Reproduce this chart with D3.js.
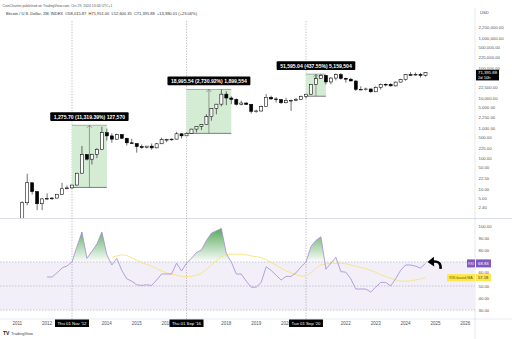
<!DOCTYPE html>
<html><head><meta charset="utf-8">
<script src="https://cdn.jsdelivr.net/npm/d3@7"></script>
<style>
html,body{margin:0;padding:0;background:#fff;}
svg{display:block;font-family:"Liberation Sans",Arial,sans-serif;}
</style></head><body>
<svg id="c" width="512" height="339"></svg>
<script>
// ---------- DATA ----------
const candleMonths = [
"2011-03","2011-05","2011-07","2011-09","2011-11",
"2012-01","2012-03","2012-05","2012-07","2012-09","2012-11",
"2013-01","2013-03","2013-05","2013-07","2013-09","2013-11",
"2014-01","2014-03","2014-05","2014-07","2014-09","2014-11",
"2015-01","2015-03","2015-05","2015-07","2015-09","2015-11",
"2016-01","2016-03","2016-05","2016-07","2016-09","2016-11",
"2017-01","2017-03","2017-05","2017-07","2017-09","2017-11",
"2018-01","2018-03","2018-05","2018-07","2018-09","2018-11",
"2019-01","2019-03","2019-05","2019-07","2019-09","2019-11",
"2020-01","2020-03","2020-05","2020-07","2020-09","2020-11",
"2021-01","2021-03","2021-05","2021-07","2021-09","2021-11",
"2022-01","2022-03","2022-05","2022-07","2022-09","2022-11",
"2023-01","2023-03","2023-05","2023-07","2023-09","2023-11",
"2024-01","2024-03","2024-05","2024-07","2024-09"];
const openP = [
0.86,3.5,16.1,8.2,3.25,
4.7,4.9,5.0,6.7,10.2,10.9,
13.5,33.4,139,97,141,204,
732,573,447,640,478,338,
320,254,236,263,230,314,
430,437,448,673,575,700,
963,1190,1348,2480,4703,6450,
13800,10300,9240,6390,7030,6370,
3740,3820,5320,10800,9590,9150,
7190,8540,8620,9140,11650,13800,
29000,45200,57700,35040,47100,61300,
46300,43200,37700,19900,20050,20500,
16550,23150,29250,29230,25940,34660,
42270,61200,60600,62700,58015.87];
const highP = [
3.9,31.9,16.5,8.5,4.9,
7.2,5.4,6.9,16.0,13.0,13.8,
34,266,140,148,225,1150,
1000,700,680,650,500,460,
320,300,265,320,335,500,
460,470,780,700,740,980,
1210,1350,2980,4770,6470,19700,
17200,11700,10000,8500,7400,6600,
4200,5750,13880,12300,10950,9500,
10500,9200,10400,12470,14100,29300,
58350,64900,59500,50500,67000,69000,
48000,48200,39900,25200,22800,21500,
25250,31000,31400,31800,35900,44700,
64000,73800,72000,70000,71951];
const lowP = [
0.7,2.9,6.6,2.0,2.0,
4.3,4.3,4.9,6.5,9.7,10.1,
13.2,33,88,65,105,200,
400,340,430,460,275,310,
160,215,220,200,225,310,
355,400,440,470,570,690,
750,890,1340,1830,2970,5500,
6000,6450,5800,5900,6100,3150,
3350,3700,5300,9100,7300,6500,
6850,3850,8100,8900,9820,13200,
28000,44900,28800,29300,39600,42000,
33000,37400,17600,18800,18150,15500,
16500,19550,24800,25200,24900,34100,
38500,56500,56500,49000,52600.35];
const closeP = [
3.5,16.1,8.2,3.25,4.7,
4.9,5.0,6.7,10.2,10.9,13.5,
33.4,139,97,141,204,732,
573,447,640,478,338,320,
254,236,263,230,314,430,
437,448,673,575,700,963,
1190,1348,2480,4703,6450,13800,
10300,9240,6390,7030,6370,3740,
3820,5320,10800,9590,9150,7190,
8540,8620,9140,11650,13800,29000,
45200,57700,35040,47100,61300,46300,
43200,37700,19900,20050,20500,16550,
23150,29250,29230,25940,34660,42270,
61200,60600,62700,58015.87,71395.88];

// RSI values from Jan 2012
const rsiStart = "2012-01";
const rsiValues = [
57.5,57.5,61,65,66.7,70,
83,95,73,79,85,95,
76,67.5,73,63,56,54,
51,50.5,51,50.5,55,60,
60,60,69,62.5,69,73,
78,80,88,94,96,98,
77,70,60,60,54,49,
49,53,66,63,59,55,
58,58,61,66,70,83,
88,91,64,69,74,62,
61.5,56,47.5,47.5,47.5,45,
49,53,53,50,56,63,
67.5,67.5,66.5,65,68.83];
// RSI-based MA from Mar 2014
const maStart = "2014-03";
const maValues = [
74,75,76,75.5,73.5,
71.5,69.5,68,66.5,64.5,62.5,
61,60,59,58,57.8,58,
59,60.5,64,67.5,71,74.5,
76.2,76.5,76.5,76.5,76,75,
74.5,73.5,72,69.5,67.5,65,
62.5,61,59.5,58.2,58.5,61,
65,67.5,68.5,69,69,69,
68.5,67.5,66.5,65.5,64.5,63,
61.5,59.5,58,56.5,55,54,
54,54.2,55,56,57.18];

const measureStart = ["2012-11","2016-09","2020-09"];
const measureEnd   = ["2014-01","2018-03","2021-05"];
const measureLow   = [11.27, 695.6, 11791.8];
const measureHigh  = [1286.97, 19691.1, 63386.8];
const measureLabels = ["1,275.70 (11,319.39%) 127,570","18,995.54 (2,730.92%) 1,899,554","51,595.04 (437.55%) 5,159,504"];

const markerMonths = ["2012-11","2016-09","2020-09"];
const markerLabels = ["Thu 01 Nov '12","Thu 01 Sep '16","Tue 01 Sep '20"];

// visible tick labels (the ones hidden behind label boxes in the reference are omitted)
const yearTicks = [2011,2012,2014,2015,2016,2018,2019,2020,2022,2023,2024,2025,2026];
const priceTicks = [2250000,1000000,500000,225000,100000,22500,10000,5000,2250,1000,500,225,100,50,22.5,10,5,2.4];
const rsiTicks = [100,90,80,60,50,40,30];

const lastPrice = 71395.88, lastRsi = 68.83, lastMa = 57.18;
const headerLine1 = "CoinChartist published on TradingView.com, Oct 29, 2024 13:03 UTC+1";
const headerLine2 = "Bitcoin / U.S. Dollar, 2M, INDEX  O58,015.87  H71,951.00  L52,600.35  C71,395.88  +13,380.01 (+23.06%)";

// ---------- SCALES ----------
const toYear = s => +s.slice(0,4) + (+s.slice(5,7)-1)/12;
const W = 512, H = 339, axisX = 475;
const paneTop = 20, paneBot = 218, rsiTop = 219, rsiBot = 318;
const x = d3.scaleLinear().domain([toYear("2012-11"), toYear("2020-09")]).range([72, 306]);
const yP = d3.scaleLog().domain([10, 100000]).range([189, 68.2]);
const yR = d3.scaleLinear().domain([30, 100]).range([310, 226]);
const barPx = (x(2020) - x(2019)) / 6;

const svg = d3.select("#c");
svg.append("rect").attr("width",W).attr("height",H).attr("fill","#fff");
const defs = svg.append("defs");
defs.append("clipPath").attr("id","pclip").append("rect")
  .attr("x",0).attr("y",paneTop).attr("width",axisX).attr("height",paneBot-paneTop);
defs.append("clipPath").attr("id","obclip").append("rect")
  .attr("x",0).attr("y",rsiTop).attr("width",axisX).attr("height",yR(70)-rsiTop);
const grad = defs.append("linearGradient").attr("id","obgrad")
  .attr("gradientUnits","userSpaceOnUse").attr("x1",0).attr("x2",0).attr("y1",yR(100)).attr("y2",yR(70));
grad.append("stop").attr("offset",0).attr("stop-color","#43a047").attr("stop-opacity",0.95);
grad.append("stop").attr("offset",1).attr("stop-color","#43a047").attr("stop-opacity",0.02);

// header
svg.append("text").attr("x",2.5).attr("y",6.5).attr("font-size",3.6).attr("fill","#555")
  .attr("textLength",110).attr("lengthAdjust","spacingAndGlyphs").text(headerLine1);
svg.append("text").attr("x",6).attr("y",15).attr("font-size",4).attr("fill","#333").attr("xml:space","preserve")
  .attr("textLength",191).attr("lengthAdjust","spacingAndGlyphs").text(headerLine2);

// frame lines
svg.append("line").attr("x1",axisX).attr("x2",axisX).attr("y1",8).attr("y2",H).attr("stroke","#e0e3eb").attr("stroke-width",0.8);
svg.append("line").attr("x1",0).attr("x2",W).attr("y1",paneBot+0.5).attr("y2",paneBot+0.5).attr("stroke","#d1d4dc").attr("stroke-width",0.8);
svg.append("line").attr("x1",0).attr("x2",W).attr("y1",rsiBot+1).attr("y2",rsiBot+1).attr("stroke","#e0e3eb").attr("stroke-width",0.8);

// RSI band
svg.append("rect").attr("x",0).attr("y",yR(70)).attr("width",axisX).attr("height",yR(30)-yR(70)).attr("fill","#f2eff9");
[70,50,30].forEach(v=>{
  svg.append("line").attr("x1",0).attr("x2",axisX).attr("y1",yR(v)).attr("y2",yR(v))
    .attr("stroke","#a6a8b3").attr("stroke-width",0.6).attr("stroke-dasharray","1.5,1.5");
});

// vertical markers
markerMonths.forEach(m=>{
  svg.append("line").attr("x1",x(toYear(m))).attr("x2",x(toYear(m))).attr("y1",paneTop+1).attr("y2",rsiBot+1)
    .attr("stroke","#8f929c").attr("stroke-width",0.6).attr("stroke-dasharray","1.2,1.5");
});

// measure boxes
const pg = svg.append("g").attr("clip-path","url(#pclip)");
measureStart.forEach((s,i)=>{
  const x0 = x(toYear(s)), x1 = x(toYear(measureEnd[i]));
  const yt = yP(measureHigh[i]), yb = yP(measureLow[i]);
  pg.append("rect").attr("x",x0).attr("y",yt).attr("width",x1-x0).attr("height",yb-yt).attr("fill","#d3ecd3");
  pg.append("line").attr("x1",x0).attr("x2",x1).attr("y1",yt).attr("y2",yt).attr("stroke","#8d8f97").attr("stroke-width",0.7);
  pg.append("line").attr("x1",x0).attr("x2",x1).attr("y1",yb).attr("y2",yb).attr("stroke","#5d5f66").attr("stroke-width",0.8);
  const xm = (x0+x1)/2;
  pg.append("line").attr("x1",xm).attr("x2",xm).attr("y1",yb).attr("y2",yt).attr("stroke","#666").attr("stroke-width",0.6);
  pg.append("path").attr("d",`M${xm-2.5},${yt+2.5}L${xm},${yt}L${xm+2.5},${yt+2.5}`).attr("fill","none").attr("stroke","#666").attr("stroke-width",0.6);
});

// candles
const bw = barPx*0.62;
const candles = candleMonths.map((m,i)=>({t:toYear(m),o:openP[i],h:highP[i],l:lowP[i],c:closeP[i]}));
const cg = pg.append("g");
cg.selectAll("line.w").data(candles).join("line")
  .attr("x1",d=>x(d.t)).attr("x2",d=>x(d.t)).attr("y1",d=>yP(d.h)).attr("y2",d=>yP(d.l))
  .attr("stroke","#111").attr("stroke-width",0.6);
cg.selectAll("rect.b").data(candles).join("rect")
  .attr("x",d=>x(d.t)-bw/2).attr("width",bw)
  .attr("y",d=>Math.min(yP(d.o),yP(d.c))).attr("height",d=>Math.max(0.7,Math.abs(yP(d.o)-yP(d.c))))
  .attr("fill",d=>d.c>=d.o?"#fff":"#000").attr("stroke","#000").attr("stroke-width",0.55);

// measure labels
measureStart.forEach((s,i)=>{
  const x0 = x(toYear(s)), x1 = x(toYear(measureEnd[i]));
  const yt = yP(measureHigh[i]);
  const xm = (x0+x1)/2;
  const t = svg.append("text").attr("x",xm).attr("y",yt-6.2).attr("text-anchor","middle")
    .attr("font-size",5.1).attr("font-weight","bold").attr("fill","#fff").text(measureLabels[i]);
  const w = t.node().getComputedTextLength()+7;
  svg.insert("rect", () => t.node()).attr("x",xm-w/2).attr("y",yt-13).attr("width",w).attr("height",8.8).attr("rx",1).attr("fill","#000");
});

// price axis
svg.append("text").attr("x",480).attr("y",14).attr("font-size",4.2).attr("fill","#4a4e59").text("USD");
const fmt = d3.format(",.2f");
priceTicks.forEach(v=>{
  svg.append("text").attr("x",478.5).attr("y",yP(v)+1.5).attr("font-size",4.3).attr("fill","#50535e").text(fmt(v));
});
const lpY = yP(lastPrice);
svg.append("rect").attr("x",476).attr("y",lpY-2.8).attr("width",23).attr("height",10.6).attr("fill","#000");
svg.append("text").attr("x",478).attr("y",lpY+1.3).attr("font-size",4.3).attr("fill","#fff").text(fmt(lastPrice));
svg.append("text").attr("x",478).attr("y",lpY+6.3).attr("font-size",4.1).attr("fill","#fff").text("2d 10h");

// RSI
const rsiData = rsiValues.map((v,i)=>({t:toYear(rsiStart)+i/6, v}));
const maData = maValues.map((v,i)=>({t:toYear(maStart)+i/6, v}));
svg.append("path").datum(rsiData).attr("clip-path","url(#obclip)")
  .attr("d", d3.area().x(d=>x(d.t)).y0(yR(70)).y1(d=>yR(d.v)))
  .attr("fill","url(#obgrad)");
svg.append("path").datum(maData).attr("d", d3.line().x(d=>x(d.t)).y(d=>yR(d.v)))
  .attr("fill","none").attr("stroke","#f9e27a").attr("stroke-width",0.9);
svg.append("path").datum(rsiData).attr("d", d3.line().x(d=>x(d.t)).y(d=>yR(d.v)))
  .attr("fill","none").attr("stroke","#a28bd4").attr("stroke-width",0.8);

rsiTicks.forEach(v=>{
  svg.append("text").attr("x",478.5).attr("y",yR(v)+(v===60?0.2:1.5)).attr("font-size",4.3).attr("fill","#50535e").text(fmt(v));
});
// RSI labels
const ry = yR(lastRsi), my = yR(lastMa);
svg.append("rect").attr("x",467).attr("y",ry-4).attr("width",8).attr("height",8).attr("fill","#7e57c2");
svg.append("text").attr("x",471).attr("y",ry+1.4).attr("text-anchor","middle").attr("font-size",3.6).attr("fill","#e8e0f7").text("RSI");
svg.append("rect").attr("x",476).attr("y",ry-4).attr("width",15).attr("height",8).attr("fill","#7e57c2");
svg.append("text").attr("x",478).attr("y",ry+1.5).attr("font-size",4.3).attr("fill","#fff").text(fmt(lastRsi));
svg.append("rect").attr("x",447).attr("y",my-3.3).attr("width",28).attr("height",7.2).attr("fill","#fde74c");
svg.append("text").attr("x",461).attr("y",my+1.4).attr("text-anchor","middle").attr("font-size",3.6).attr("fill","#6b5d00").text("RSI-based MA");
svg.append("rect").attr("x",476).attr("y",my-3.3).attr("width",15).attr("height",7.2).attr("fill","#fde74c");
svg.append("text").attr("x",478).attr("y",my+1.7).attr("font-size",4.1).attr("fill","#333").text(fmt(lastMa));

// curved arrow
svg.append("path").attr("d","M440.5,268.8 Q441.5,260.5 432.5,261.6").attr("fill","none").attr("stroke","#000").attr("stroke-width",2.6);
svg.append("path").attr("d","M427.5,262 L433.8,256.8 L434.2,266.6 Z").attr("fill","#000");

// time axis
yearTicks.forEach(yv=>{
  svg.append("text").attr("x",x(yv)).attr("y",325).attr("text-anchor","middle").attr("font-size",4.5).attr("fill","#50535e").text(yv);
});
markerMonths.forEach((m,i)=>{
  const xm = x(toYear(m));
  const t = svg.append("text").attr("x",xm).attr("y",324.6).attr("text-anchor","middle").attr("font-size",4.3).attr("fill","#fff").text(markerLabels[i]);
  const w = t.node().getComputedTextLength()+5;
  svg.insert("rect",()=>t.node()).attr("x",xm-w/2).attr("y",319.5).attr("width",w).attr("height",7.5).attr("fill","#000");
});

// logo
svg.append("text").attr("x",3).attr("y",334.5).attr("font-size",5).attr("font-weight","bold").attr("fill","#222").text("TV");
svg.append("text").attr("x",11).attr("y",334.5).attr("font-size",4).attr("fill","#444").text("TradingView");
</script>
</body></html>
